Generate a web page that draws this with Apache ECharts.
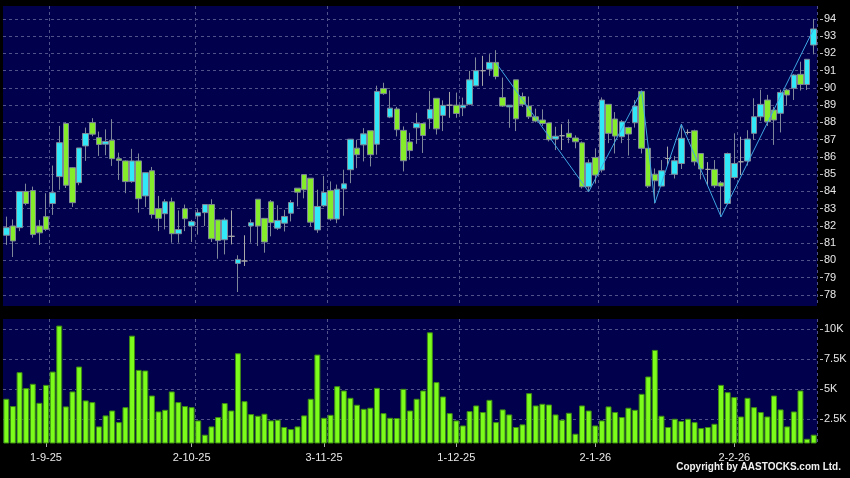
<!DOCTYPE html>
<html>
<head>
<meta charset="utf-8">
<script src="https://cdn.jsdelivr.net/npm/echarts@6/dist/echarts.min.js"></script>
<style>
  html, body { margin: 0; padding: 0; background: #000; }
  #chart { width: 850px; height: 478px; }
</style>
</head>
<body>
<div id="chart"></div>
<script>
// trading days (d-m-yy)
const dates = [
  '22-8-25','25-8-25','26-8-25','27-8-25','28-8-25','29-8-25',
  '1-9-25','2-9-25','3-9-25','4-9-25','5-9-25','8-9-25','9-9-25','10-9-25','11-9-25','12-9-25',
  '15-9-25','16-9-25','17-9-25','18-9-25','19-9-25','22-9-25','23-9-25','24-9-25','25-9-25','26-9-25','29-9-25','30-9-25',
  '2-10-25','3-10-25','6-10-25','8-10-25','9-10-25','10-10-25','13-10-25','14-10-25','15-10-25','16-10-25','17-10-25',
  '20-10-25','21-10-25','22-10-25','23-10-25','24-10-25','27-10-25','28-10-25','30-10-25','31-10-25',
  '3-11-25','4-11-25','5-11-25','6-11-25','7-11-25','10-11-25','11-11-25','12-11-25','13-11-25','14-11-25',
  '17-11-25','18-11-25','19-11-25','20-11-25','21-11-25','24-11-25','25-11-25','26-11-25','27-11-25','28-11-25',
  '1-12-25','2-12-25','3-12-25','4-12-25','5-12-25','8-12-25','9-12-25','10-12-25','11-12-25','12-12-25',
  '15-12-25','16-12-25','17-12-25','18-12-25','19-12-25','22-12-25','23-12-25','24-12-25','29-12-25','30-12-25','31-12-25',
  '2-1-26','5-1-26','6-1-26','7-1-26','8-1-26','9-1-26','12-1-26','13-1-26','14-1-26','15-1-26','16-1-26',
  '19-1-26','20-1-26','21-1-26','22-1-26','23-1-26','26-1-26','27-1-26','28-1-26','29-1-26','30-1-26',
  '2-2-26','3-2-26','4-2-26','5-2-26','6-2-26','9-2-26','10-2-26','11-2-26','12-2-26','13-2-26','16-2-26','20-2-26','23-2-26'
];

// [open, close, low, high]
const ohlc = [
  [81.46,81.90,80.90,82.54],[82.00,81.13,80.20,82.38],[81.90,84.00,81.70,84.00],[84.00,83.30,83.20,84.45],
  [84.05,81.50,81.32,84.28],[82.00,81.60,80.90,82.35],[82.54,81.80,81.70,83.90],[83.30,83.93,82.64,85.50],
  [84.86,86.83,84.10,87.80],[87.94,84.36,84.20,88.00],[85.38,83.35,83.10,85.40],[84.51,86.52,84.36,86.52],
  [86.64,87.36,85.77,87.70],[87.99,87.32,87.20,88.25],[87.12,86.72,86.06,87.47],[86.74,86.90,86.10,87.60],
  [86.97,85.90,85.48,88.19],[85.90,85.80,84.67,86.25],[85.77,84.57,83.90,85.80],[84.57,85.77,84.50,86.47],
  [85.77,83.58,82.77,86.20],[83.74,85.09,83.10,85.10],[85.20,82.66,82.43,85.42],[83.00,82.44,81.70,83.74],
  [82.71,83.40,81.80,83.55],[83.40,81.55,81.03,83.64],[81.55,81.79,81.03,82.90],[83.00,82.42,81.70,83.24],
  [82.00,82.25,81.07,82.35],[82.58,82.77,81.50,82.97],[82.77,83.24,82.00,83.24],[83.24,81.26,81.07,83.55],
  [82.35,81.15,80.10,82.35],[81.20,82.35,80.35,82.48],[81.40,81.40,80.93,82.90],[79.83,80.06,78.17,80.30],
  [79.97,79.97,79.68,81.46],[82.00,82.19,81.03,82.38],[83.55,82.00,80.84,83.55],[82.44,81.07,80.45,82.44],
  [83.40,82.19,81.40,83.50],[81.87,82.32,81.77,83.20],[82.16,82.55,81.68,82.93],[82.74,83.36,82.26,83.50],
  [84.19,83.96,83.13,84.19],[84.98,84.10,83.60,84.98],[84.77,82.22,81.97,84.77],[81.77,83.13,81.60,84.10],
  [83.17,83.94,83.10,84.90],[84.06,82.40,82.30,84.58],[82.40,84.13,82.16,84.40],[84.15,84.44,82.59,85.26],
  [85.26,87.03,84.48,87.03],[86.51,86.13,85.35,87.00],[86.70,87.34,85.74,87.67],[87.52,86.13,85.45,87.52],
  [86.74,89.80,86.13,90.13],[89.97,89.67,89.60,90.30],[88.31,88.83,88.25,89.86],[88.78,87.58,87.19,88.90],
  [87.54,85.78,85.16,87.77],[86.87,86.37,85.84,87.40],[87.69,87.94,86.76,88.56],[87.94,87.24,86.23,87.94],
  [88.21,88.76,87.63,89.83],[89.40,87.63,87.30,89.40],[88.41,88.99,87.50,89.28],[89.00,89.00,88.27,89.77],
  [89.00,88.52,88.27,89.73],[88.85,89.00,88.37,89.44],[89.05,90.47,89.00,90.99],[90.12,91.00,90.10,91.77],
  [91.00,91.00,90.12,91.86],[91.09,91.48,90.70,91.96],[91.48,90.66,90.50,92.19],[89.44,88.95,88.90,90.60],
  [88.90,89.00,87.69,89.00],[90.47,88.21,87.50,90.47],[89.50,89.05,88.90,89.73],[88.95,88.33,88.20,89.50],
  [88.33,88.08,88.00,88.80],[88.14,87.94,87.80,88.76],[87.97,87.00,86.90,88.00],[87.04,87.20,86.40,87.75],
  [87.23,87.23,86.40,87.90],[87.37,87.13,86.80,88.18],[87.10,86.88,86.50,87.25],[86.82,84.27,84.17,86.90],
  [84.27,85.66,83.98,85.86],[85.97,84.95,84.46,86.50],[85.24,89.30,85.10,89.45],[89.05,87.37,86.80,89.05],
  [88.20,87.21,86.20,88.60],[87.17,88.04,86.80,88.14],[87.71,87.33,86.08,87.75],[87.98,88.95,87.70,89.30],
  [89.80,86.50,86.20,89.85],[86.50,84.31,84.20,86.50],[85.00,84.62,83.30,85.33],[84.31,85.20,84.30,85.82],
  [85.91,85.91,85.50,86.60],[85.00,85.78,84.75,86.05],[85.62,87.08,85.30,87.90],[87.42,87.42,87.30,87.60],
  [87.52,85.72,85.50,87.58],[86.20,85.30,84.70,86.20],[85.28,85.28,84.35,85.70],[85.28,84.33,84.20,85.82],
  [84.50,84.31,82.53,84.60],[83.30,86.20,83.25,86.25],[84.81,85.62,84.70,87.37],[85.72,85.72,84.95,87.17],
  [85.76,87.04,85.50,87.55],[87.37,88.33,87.00,89.40],[88.33,89.05,88.10,89.90],[89.30,88.04,87.80,89.60],
  [88.72,88.14,86.70,88.90],[88.53,89.74,87.42,89.90],[89.88,89.59,88.97,89.95],[89.98,90.75,89.30,90.80],
  [90.79,90.20,89.85,91.52],[90.20,91.66,89.88,91.66],[92.49,93.42,91.95,94.00]
];

// volume in thousands
const volK = [
  4.17,3.56,6.39,5.06,5.42,3.83,5.33,6.44,10.28,3.53,4.78,6.86,4.03,3.89,1.86,2.78,3.19,2.22,3.47,9.44,
  6.58,6.53,4.44,3.11,3.25,4.78,3.89,3.56,3.47,2.36,1.17,1.86,2.64,3.81,3.19,7.97,3.97,2.89,2.75,2.92,
  2.36,2.42,1.81,1.64,1.86,2.78,4.17,7.86,2.58,2.83,5.22,4.86,4.25,3.67,3.33,3.42,5.08,2.97,2.58,2.56,
  5.00,3.19,4.17,4.86,9.72,5.56,4.36,2.97,2.36,1.94,3.14,3.61,3.06,4.08,2.22,3.28,2.86,1.81,2.03,4.64,
  3.61,3.75,3.69,2.86,2.42,3.00,1.25,3.61,3.19,1.94,2.36,3.53,3.06,2.64,3.42,3.25,4.58,6.03,8.25,2.75,
  1.81,2.50,2.31,2.50,2.22,1.72,1.81,2.08,5.33,4.72,4.31,2.69,4.25,3.47,3.06,2.69,4.44,3.28,1.86,3.11,
  4.86,0.83,1.17
];

// zigzag turning points
const zzIdx = [74, 88, 96, 98, 102, 108, 122];
const zzVal = [91.45, 83.98, 89.83, 83.33, 87.90, 82.53, 93.42];

const labelDates = ['1-9-25', '2-10-25', '3-11-25', '1-12-25', '2-1-26', '2-2-26'];
const priceTicks = [78, 79, 80, 81, 82, 83, 84, 85, 86, 87, 88, 89, 90, 91, 92, 93, 94];
const volTicks = [2.5, 5, 7.5, 10];

const labelIdx = labelDates.map(d => dates.indexOf(d));
const zigzag = dates.map(() => null);
zzIdx.forEach((i, k) => { zigzag[i] = zzVal[k]; });

const navy = '#00004c';
const gridLine = { show: true, lineStyle: { color: '#52528a', width: 1, type: [3, 3] } };
const txt = { color: '#e8e8e8', fontSize: 11, fontFamily: 'Liberation Sans, Arial, sans-serif' };

const chart = echarts.init(document.getElementById('chart'));
chart.setOption({
  animation: false,
  backgroundColor: '#000',
  title: {
    text: 'Copyright by AASTOCKS.com Ltd.',
    right: 4, bottom: 1,
    textStyle: { color: '#f0f0f0', fontSize: 10, fontWeight: 'bold', fontFamily: 'Liberation Sans, Arial, sans-serif' }
  },
  grid: [
    { left: 3, right: 33, top: 6, height: 300, show: true, backgroundColor: navy, borderWidth: 0 },
    { left: 3, right: 33, top: 319, height: 124, show: true, backgroundColor: navy, borderWidth: 0 }
  ],
  xAxis: [
    {
      type: 'category', gridIndex: 0, data: dates, boundaryGap: true,
      axisLine: { show: false }, axisTick: { show: false }, axisLabel: { show: false },
      splitLine: Object.assign({ interval: (i) => labelIdx.includes(i - 1) }, gridLine)
    },
    {
      type: 'category', gridIndex: 1, data: dates, boundaryGap: true,
      axisLine: { show: false },
      axisTick: { show: true, alignWithLabel: true, length: 4, interval: (i) => labelIdx.includes(i), lineStyle: { color: '#aaa' } },
      axisLabel: Object.assign({ interval: (i) => labelIdx.includes(i), margin: 9 }, txt),
      splitLine: Object.assign({ interval: (i) => labelIdx.includes(i - 1) }, gridLine)
    }
  ],
  yAxis: [
    {
      type: 'value', gridIndex: 0, position: 'right', offset: 3,
      min: 77.36, max: 94.75,
      axisLine: { show: false },
      axisTick: { show: true, length: 3, customValues: priceTicks, lineStyle: { color: '#bbb' } },
      axisLabel: Object.assign({ customValues: priceTicks, margin: 4 }, txt),
      splitLine: gridLine
    },
    {
      type: 'value', gridIndex: 1, position: 'right', offset: 3,
      min: 0.475, max: 10.83,
      axisLine: { show: false },
      axisTick: { show: true, length: 3, customValues: volTicks, lineStyle: { color: '#bbb' } },
      axisLabel: Object.assign({ customValues: volTicks, margin: 4, formatter: v => v + 'K' }, txt),
      splitLine: gridLine
    }
  ],
  series: [
    {
      type: 'candlestick', xAxisIndex: 0, yAxisIndex: 0,
      data: ohlc, barWidth: 6,
      itemStyle: {
        color: '#30e8f8', color0: '#84ec2a',
        borderColor: '#7f8898', borderColor0: '#7f8898', borderColorDoji: '#a8a8a8',
        borderWidth: 1
      }
    },
    {
      type: 'line', xAxisIndex: 0, yAxisIndex: 0,
      data: zigzag, connectNulls: true, symbol: 'none', silent: true,
      lineStyle: { color: '#3ea6e2', width: 1 }
    },
    {
      type: 'bar', xAxisIndex: 1, yAxisIndex: 1,
      data: volK, barWidth: '90%', clip: true,
      itemStyle: { color: '#7cfc1a', borderColor: '#3d8a14', borderWidth: 1 }
    }
  ]
});
</script>
</body>
</html>
